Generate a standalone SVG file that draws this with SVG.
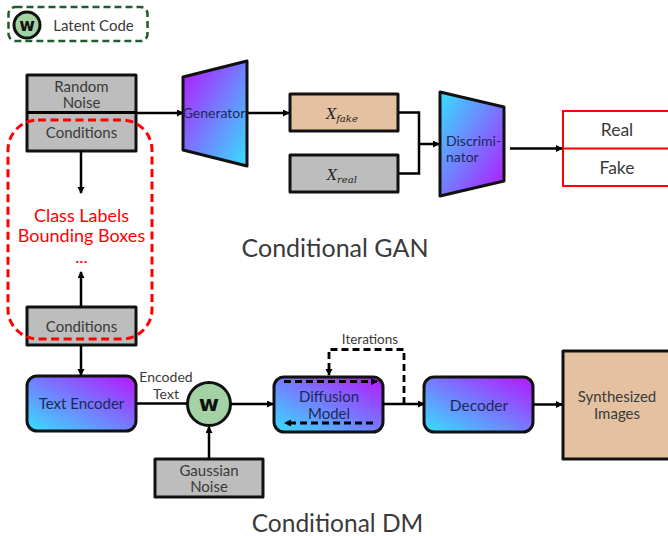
<svg xmlns="http://www.w3.org/2000/svg" width="668" height="536" viewBox="0 0 668 536">
<style>
text{font-family:"Lato","Noto Sans","Liberation Sans",sans-serif;fill:#3a3a3a;text-anchor:middle;font-size:15px}
.box{stroke:#111;stroke-width:3;stroke-linejoin:round}
.gray{fill:#bdbdbd}
.tan{fill:#e4c1a1}
.line{fill:none;stroke:#000;stroke-width:2.5}
.dash{fill:none;stroke:#000;stroke-width:2.8;stroke-dasharray:7 4}
.dark{fill:#1b2a55}
.w{font-family:"DejaVu Sans","Liberation Sans",sans-serif;font-weight:bold;fill:#111}
.math{font-family:"DejaVu Serif","Liberation Serif",serif;font-style:italic;fill:#222}
</style>
<defs>
<marker id="arr" markerWidth="8" markerHeight="8" refX="6" refY="3.5" orient="auto" markerUnits="userSpaceOnUse"><path d="M0 0L7 3.5L0 7Z" fill="#000"/></marker>
<linearGradient id="gradA" x1="0" y1="0" x2="1" y2="1"><stop offset="0" stop-color="#b416ff"/><stop offset="1" stop-color="#36e0ff"/></linearGradient>
<linearGradient id="gradB" x1="0" y1="0" x2="1" y2="1"><stop offset="0" stop-color="#36e0ff"/><stop offset="1" stop-color="#b416ff"/></linearGradient>
<linearGradient id="gradC" x1="0" y1="1" x2="1" y2="0"><stop offset="0" stop-color="#36e0ff"/><stop offset="1" stop-color="#b416ff"/></linearGradient>
</defs>

<g id="legend">
<rect x="8.500" y="7" width="139" height="34" rx="7" fill="none" stroke="#1e5c2e" stroke-width="2.500" stroke-dasharray="7 4"/>
<circle cx="27" cy="25" r="13" fill="#a3d3a5" stroke="#111" stroke-width="3"/>
<text class="w" x="27" y="31" style="font-size:17px">w</text>
<text x="93.500" y="31">Latent Code</text>
</g>

<g id="noise-conditions">
<rect class="box gray" x="27" y="75" width="109" height="76"/>
<path class="line" d="M27 112.500H136" style="stroke-width:3"/>
<text x="81.500" y="92">Random<tspan x="81.500" dy="16">Noise</tspan></text>
<text x="81.500" y="138">Conditions</text>
</g>
<g id="generator">
<polygon class="box" points="183,77 247,61 247,166 183,150" fill="url(#gradA)"/>
<text class="dark" x="214" y="118" style="font-size:14px">Generator</text>
</g>
<g id="x-fake">
<rect class="box tan" x="290" y="94" width="108" height="37"/>
<text class="math" x="342" y="119" style="font-size:14px">X<tspan dy="3" font-size="10">fake</tspan></text>
</g>
<g id="x-real">
<rect class="box gray" x="290" y="155" width="108" height="37"/>
<text class="math" x="342" y="180" style="font-size:14px">X<tspan dy="3" font-size="10">real</tspan></text>
</g>
<g id="discriminator">
<polygon class="box" points="440,92 504,107 504,181 440,196" fill="url(#gradB)"/>
<text class="dark" x="446" y="146" style="text-anchor:start;font-size:14px">Discrimi-<tspan x="446" dy="16">nator</tspan></text>
</g>
<g id="real-fake">
<rect x="563" y="111" width="108" height="75" fill="#fff" stroke="#f00" stroke-width="2"/>
<path d="M563 148.500H668" stroke="#f00" stroke-width="2"/>
<text x="617" y="136" style="font-size:17.500px">Real</text>
<text x="617" y="174" style="font-size:17.500px">Fake</text>
</g>
<g id="conditions-lower">
<rect class="box gray" x="27" y="307" width="109" height="38"/>
<text x="81.500" y="332">Conditions</text>
</g>
<g id="condition-types">
<rect x="8" y="120" width="144" height="219" rx="30" fill="none" stroke="#f00" stroke-width="3" stroke-dasharray="8 4.500"/>
<text x="81.500" y="222" style="fill:#f00;font-size:18px">Class Labels</text>
<text x="81.500" y="242" style="fill:#f00;font-size:18px">Bounding Boxes</text>
<text x="81.500" y="263" style="fill:#f00;font-size:18px">...</text>
</g>
<g id="text-encoder">
<rect class="box" x="27" y="376" width="109" height="55" rx="10" fill="url(#gradC)"/>
<text class="dark" x="81.500" y="409">Text Encoder</text>
</g>
<g id="latent-w">
<circle cx="209" cy="404" r="21.500" fill="#a3d3a5" stroke="#111" stroke-width="3"/>
<text class="w" x="209" y="411" style="font-size:22px">w</text>
</g>
<g id="gaussian-noise">
<rect class="box gray" x="155" y="459" width="108" height="38"/>
<text x="209" y="476">Gaussian<tspan x="209" dy="16">Noise</tspan></text>
</g>
<g id="diffusion-model">
<rect class="box" x="274" y="377" width="109" height="55" rx="10" fill="url(#gradC)"/>
<text class="dark" x="329" y="402">Diffusion<tspan x="329" dy="17">Model</tspan></text>
</g>
<g id="decoder">
<rect class="box" x="424" y="377" width="109" height="55" rx="10" fill="url(#gradC)"/>
<text class="dark" x="479" y="411" style="font-size:15.500px">Decoder</text>
</g>
<g id="synthesized-images">
<rect class="box tan" x="563" y="351" width="108" height="108"/>
<text x="617" y="402">Synthesized<tspan x="617" dy="17">Images</tspan></text>
</g>

<g id="connectors">
<path class="line" marker-end="url(#arr)" d="M136 113H183"/>
<path class="line" marker-end="url(#arr)" d="M248 113H289"/>
<path class="line" d="M398 112.500H419V173.500H398"/>
<path class="line" marker-end="url(#arr)" d="M419 144H439"/>
<path class="line" marker-end="url(#arr)" d="M510 148.500H562"/>
<path class="line" marker-end="url(#arr)" d="M81 151V193"/>
<path class="line" marker-end="url(#arr)" d="M81 307V272"/>
<path class="line" marker-end="url(#arr)" d="M81 345V375"/>
<path class="line" d="M136 403.500H187"/>
<path class="line" marker-end="url(#arr)" d="M231 404H273"/>
<path class="line" marker-end="url(#arr)" d="M209 459V427"/>
<path class="line" marker-end="url(#arr)" d="M383 404H424"/>
<path class="line" marker-end="url(#arr)" d="M533 404.500H562"/>
<path class="dash" marker-end="url(#arr)" d="M404 404V349.500H329V375"/>
<path class="dash" marker-end="url(#arr)" d="M284 381.500H377"/>
<path class="dash" marker-end="url(#arr)" d="M373 423H285"/>
</g>

<g id="labels">
<text x="166" y="382" style="font-size:14px">Encoded<tspan x="166" dy="17">Text</tspan></text>
<text x="370" y="344" style="font-size:13.500px">Iterations</text>
<text x="335" y="257" style="font-size:25px">Conditional GAN</text>
<text x="337.500" y="532" style="font-size:24.500px">Conditional DM</text>
</g>
</svg>
